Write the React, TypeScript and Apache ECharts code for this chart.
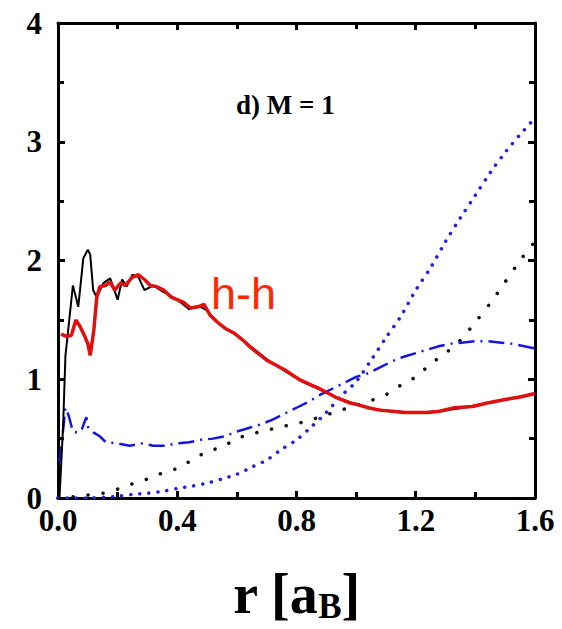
import React, { useEffect, useRef } from 'react';
import * as echarts from 'echarts';

// Axis ticks
const xTicks = [0.0, 0.4, 0.8, 1.2, 1.6];
const yTicks = [0, 1, 2, 3, 4];

// Black solid curve
const blackX = [0.005, 0.017, 0.025, 0.034, 0.05, 0.068, 0.085, 0.1, 0.108, 0.118, 0.13, 0.152, 0.175, 0.2, 0.215, 0.23, 0.25, 0.27, 0.29, 0.32, 0.35, 0.38, 0.41, 0.44, 0.47, 0.5, 0.53, 0.56, 0.6, 0.65, 0.7, 0.76, 0.82, 0.88, 0.94, 1.0, 1.06, 1.12, 1.2, 1.28, 1.36, 1.44, 1.52, 1.6];
const blackY = [0, 0.6, 1.2, 1.41, 1.79, 1.61, 2.02, 2.09, 2.05, 1.75, 1.69, 1.81, 1.85, 1.67, 1.84, 1.78, 1.88, 1.86, 1.75, 1.79, 1.74, 1.7, 1.65, 1.59, 1.62, 1.58, 1.49, 1.43, 1.37, 1.27, 1.17, 1.07, 0.98, 0.91, 0.84, 0.79, 0.75, 0.73, 0.72, 0.73, 0.76, 0.8, 0.84, 0.88];

// Red solid curve (h-h)
const redX = [0.01, 0.03, 0.045, 0.06, 0.075, 0.09, 0.1, 0.108, 0.12, 0.13, 0.14, 0.16, 0.175, 0.19, 0.21, 0.225, 0.25, 0.27, 0.29, 0.31, 0.33, 0.355, 0.38, 0.4, 0.42, 0.445, 0.47, 0.49, 0.51, 0.535, 0.56, 0.59, 0.62, 0.645, 0.67, 0.7, 0.73, 0.76, 0.79, 0.815, 0.85, 0.87, 0.9, 0.93, 0.96, 0.98, 1.0, 1.04, 1.08, 1.12, 1.16, 1.2, 1.24, 1.28, 1.33, 1.39, 1.44, 1.5, 1.55, 1.6];
const redY = [1.38, 1.36, 1.37, 1.5, 1.44, 1.36, 1.3, 1.2, 1.41, 1.69, 1.78, 1.79, 1.82, 1.75, 1.81, 1.79, 1.86, 1.88, 1.84, 1.79, 1.78, 1.75, 1.69, 1.67, 1.65, 1.6, 1.61, 1.63, 1.54, 1.48, 1.43, 1.39, 1.33, 1.27, 1.22, 1.16, 1.12, 1.08, 1.03, 0.99, 0.95, 0.93, 0.89, 0.85, 0.82, 0.8, 0.79, 0.76, 0.74, 0.73, 0.72, 0.72, 0.72, 0.73, 0.76, 0.77, 0.8, 0.83, 0.85, 0.88];

// Blue dash-dot curve
const blueDashX = [0.005, 0.015, 0.025, 0.035, 0.05, 0.065, 0.08, 0.095, 0.1, 0.12, 0.14, 0.16, 0.2, 0.24, 0.28, 0.32, 0.36, 0.4, 0.44, 0.48, 0.52, 0.56, 0.6, 0.64, 0.68, 0.72, 0.76, 0.8, 0.84, 0.88, 0.92, 0.96, 1.0, 1.04, 1.08, 1.12, 1.16, 1.2, 1.24, 1.28, 1.32, 1.36, 1.4, 1.44, 1.48, 1.52, 1.56, 1.6];
const blueDashY = [0.3, 0.52, 0.76, 0.7, 0.56, 0.55, 0.58, 0.68, 0.6, 0.55, 0.52, 0.47, 0.46, 0.44, 0.46, 0.44, 0.44, 0.46, 0.47, 0.49, 0.5, 0.52, 0.56, 0.59, 0.62, 0.66, 0.71, 0.76, 0.81, 0.87, 0.92, 0.97, 1.02, 1.05, 1.1, 1.15, 1.19, 1.22, 1.25, 1.28, 1.3, 1.31, 1.32, 1.32, 1.31, 1.3, 1.28, 1.26];

// Blue dotted curve
const blueDotX = [0, 0.1, 0.2, 0.25, 0.3, 0.35, 0.4, 0.45, 0.5, 0.55, 0.6, 0.65, 0.7, 0.75, 0.8, 0.85, 0.9, 0.95, 1.0, 1.05, 1.1, 1.15, 1.2, 1.25, 1.3, 1.35, 1.4, 1.45, 1.5, 1.55, 1.6];
const blueDotY = [0, 0, 0.015, 0.03, 0.04, 0.055, 0.08, 0.1, 0.125, 0.16, 0.2, 0.26, 0.32, 0.41, 0.49, 0.6, 0.72, 0.86, 0.98, 1.16, 1.35, 1.53, 1.75, 1.94, 2.16, 2.36, 2.55, 2.74, 2.91, 3.06, 3.2];

// Black dotted curve
const blackDotX = [0, 0.05, 0.1, 0.15, 0.2, 0.25, 0.3, 0.35, 0.4, 0.45, 0.5, 0.55, 0.6, 0.65, 0.7, 0.75, 0.8, 0.85, 0.9, 0.95, 1.0, 1.05, 1.1, 1.15, 1.2, 1.25, 1.3, 1.35, 1.4, 1.45, 1.5, 1.55, 1.6];
const blackDotY = [0, 0.01, 0.025, 0.04, 0.075, 0.12, 0.16, 0.21, 0.25, 0.32, 0.39, 0.43, 0.5, 0.54, 0.57, 0.6, 0.625, 0.66, 0.7, 0.74, 0.78, 0.82, 0.87, 0.95, 1.02, 1.13, 1.22, 1.33, 1.48, 1.64, 1.82, 2.0, 2.16];

const zip = (xs: number[], ys: number[]) => xs.map((x, i) => [x, ys[i]]);

const SERIF = "'Liberation Serif', 'Times New Roman', serif";

const mkLine = () => ({ show: true, onZero: false, lineStyle: { color: '#000', width: 3 } });
const mkTick = () => ({ show: true, inside: true, length: 7, lineStyle: { color: '#000', width: 3 } });
const mkMinor = () => ({ show: true, splitNumber: 2, length: 6, lineStyle: { color: '#000', width: 3 } });

export default function App() {
  const ref = useRef<HTMLDivElement>(null);
  useEffect(() => {
    document.body.style.margin = '0';
    const chart = echarts.init(ref.current!, null, { renderer: 'svg' });
    const labelStyle = { fontFamily: SERIF, fontWeight: 'bold' as const, fontSize: 31, lineHeight: 22, color: '#000' };
    chart.setOption({
      animation: false,
      backgroundColor: '#fff',
      grid: { left: 58, top: 23, right: 27, bottom: 131, containLabel: false, outerBoundsMode: 'none' },
      xAxis: [
        {
          type: 'value', min: xTicks[0], max: xTicks[xTicks.length - 1], interval: 0.4, position: 'bottom',
          axisLine: mkLine(), axisTick: mkTick(), minorTick: mkMinor(), splitLine: { show: false }, minorSplitLine: { show: false },
          axisLabel: { ...labelStyle, margin: 11, formatter: (v: number) => v.toFixed(1) },
          name: '{a|r [a}{b|B}{a|]}', nameLocation: 'middle', nameGap: 65,
          nameTextStyle: {
            rich: {
              a: { fontFamily: SERIF, fontWeight: 'bold', fontSize: 56, color: '#000' },
              b: { fontFamily: SERIF, fontWeight: 'bold', fontSize: 35, color: '#000', verticalAlign: 'bottom', padding: [26, 0, 0, 0] },
            },
          },
        },
        {
          type: 'value', min: xTicks[0], max: xTicks[xTicks.length - 1], interval: 0.4, position: 'top',
          axisLine: mkLine(), axisTick: mkTick(), minorTick: mkMinor(), splitLine: { show: false }, minorSplitLine: { show: false },
          axisLabel: { show: false },
        },
      ],
      yAxis: [
        {
          type: 'value', min: yTicks[0], max: yTicks[yTicks.length - 1], interval: 1, position: 'left',
          axisLine: mkLine(), axisTick: mkTick(), minorTick: mkMinor(), splitLine: { show: false }, minorSplitLine: { show: false },
          axisLabel: { ...labelStyle, margin: 16, formatter: (v: number) => String(v) },
        },
        {
          type: 'value', min: yTicks[0], max: yTicks[yTicks.length - 1], interval: 1, position: 'right',
          axisLine: mkLine(), axisTick: mkTick(), minorTick: mkMinor(), splitLine: { show: false }, minorSplitLine: { show: false },
          axisLabel: { show: false },
        },
      ],
      graphic: [
        { type: 'text', left: 236, top: 91, style: { text: 'd) M = 1', fontFamily: SERIF, fontWeight: 'bold', fontSize: 27, fill: '#000' } },
        { type: 'text', left: 211, top: 271, style: { text: 'h-h', fontFamily: "'Liberation Sans', Arial, sans-serif", fontSize: 45, fill: '#ff2a00' } },
      ],
      series: [
        { type: 'line', data: zip(blackDotX, blackDotY), showSymbol: false, smooth: 0.3, lineStyle: { color: '#111', width: 3.5, type: [0.1, 15], cap: 'round' } },
        { type: 'line', data: zip(blueDotX, blueDotY), showSymbol: false, smooth: 0.3, lineStyle: { color: '#2222dd', width: 3.5, type: [0.1, 9], cap: 'round' } },
        { type: 'line', data: zip(blueDashX, blueDashY), showSymbol: false, lineStyle: { color: '#1515e0', width: 2.5, type: [16, 6, 2, 6] } },
        { type: 'line', data: zip(blackX, blackY), showSymbol: false, lineStyle: { color: '#000', width: 2 } },
        { type: 'line', data: zip(redX, redY), showSymbol: false, lineStyle: { color: '#e01010', width: 3.5 } },
      ],
    });
    return () => chart.dispose();
  }, []);
  return <div ref={ref} style={{ width: 562, height: 629 }} />;
}
